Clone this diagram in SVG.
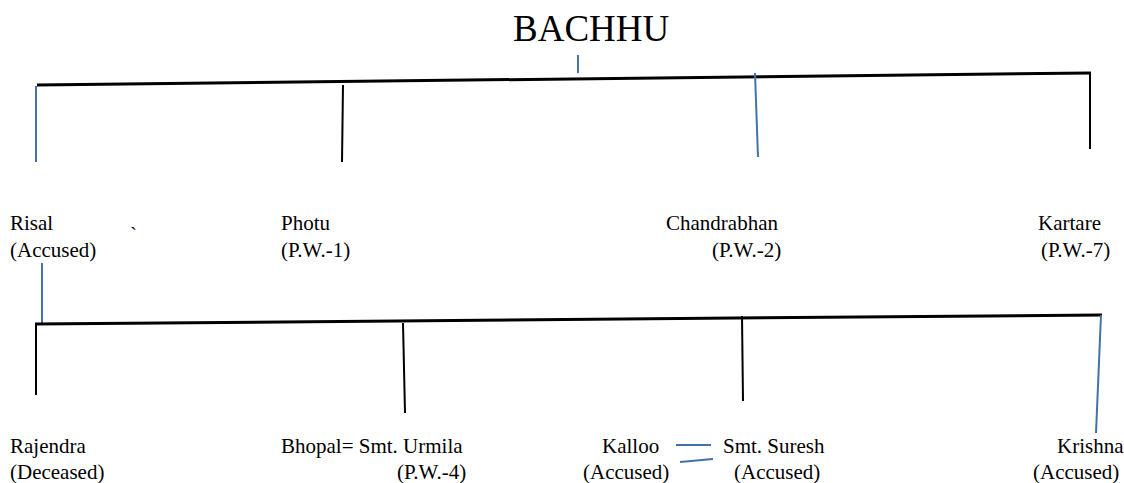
<svg xmlns="http://www.w3.org/2000/svg" width="1124" height="483" viewBox="0 0 1124 483">
<style>
text{font-family:"Liberation Serif","Times New Roman",serif;font-size:21px;fill:#000}
.title{font-size:37px}
.k{stroke:#000;stroke-width:2;fill:none}
.kh{stroke:#000;stroke-width:3;fill:none}
.b{stroke:#4472a8;stroke-width:2;fill:none}
</style>
<rect width="1124" height="483" fill="#fff"/>
<g id="connectors">
<line class="b" x1="578" y1="55" x2="578" y2="73"/>
<line class="kh" x1="37" y1="85" x2="1091" y2="73"/>
<line class="b" x1="36" y1="86" x2="36" y2="162"/>
<line class="k" x1="343" y1="85" x2="342" y2="162"/>
<line class="b" x1="755" y1="73" x2="758" y2="157"/>
<line class="k" x1="1090" y1="73" x2="1090" y2="149"/>
<line class="b" x1="42" y1="263" x2="42" y2="324"/>
<line class="kh" x1="35" y1="324" x2="1102" y2="315"/>
<line class="k" x1="36" y1="324" x2="36" y2="395"/>
<line class="k" x1="403" y1="323" x2="405" y2="413"/>
<line class="k" x1="742" y1="316" x2="743" y2="401"/>
<line class="b" x1="1101" y1="315" x2="1096" y2="433"/>
<line class="b" x1="676" y1="445" x2="711" y2="445"/>
<line class="b" x1="680" y1="462" x2="713" y2="459"/>
</g>
<g id="bachhu"><text class="title" x="513" y="41">BACHHU</text></g>
<g id="mark"><text x="130" y="242" font-size="18">`</text></g>
<g id="risal"><text x="10" y="230">Risal</text><text x="10" y="257">(Accused)</text></g>
<g id="photu"><text x="281" y="230">Photu</text><text x="281" y="257">(P.W.-1)</text></g>
<g id="chandrabhan"><text x="666" y="230">Chandrabhan</text><text x="712" y="257">(P.W.-2)</text></g>
<g id="kartare"><text x="1038" y="230">Kartare</text><text x="1041" y="257">(P.W.-7)</text></g>
<g id="rajendra"><text x="10" y="453">Rajendra</text><text x="10" y="479">(Deceased)</text></g>
<g id="bhopal"><text x="281" y="453">Bhopal= Smt. Urmila</text><text x="397" y="479">(P.W.-4)</text></g>
<g id="kalloo"><text x="602" y="453">Kalloo</text><text x="583" y="479">(Accused)</text></g>
<g id="suresh"><text x="723" y="453">Smt. Suresh</text><text x="734" y="479">(Accused)</text></g>
<g id="krishna"><text x="1057" y="453">Krishna</text><text x="1033" y="479">(Accused)</text></g>
</svg>
